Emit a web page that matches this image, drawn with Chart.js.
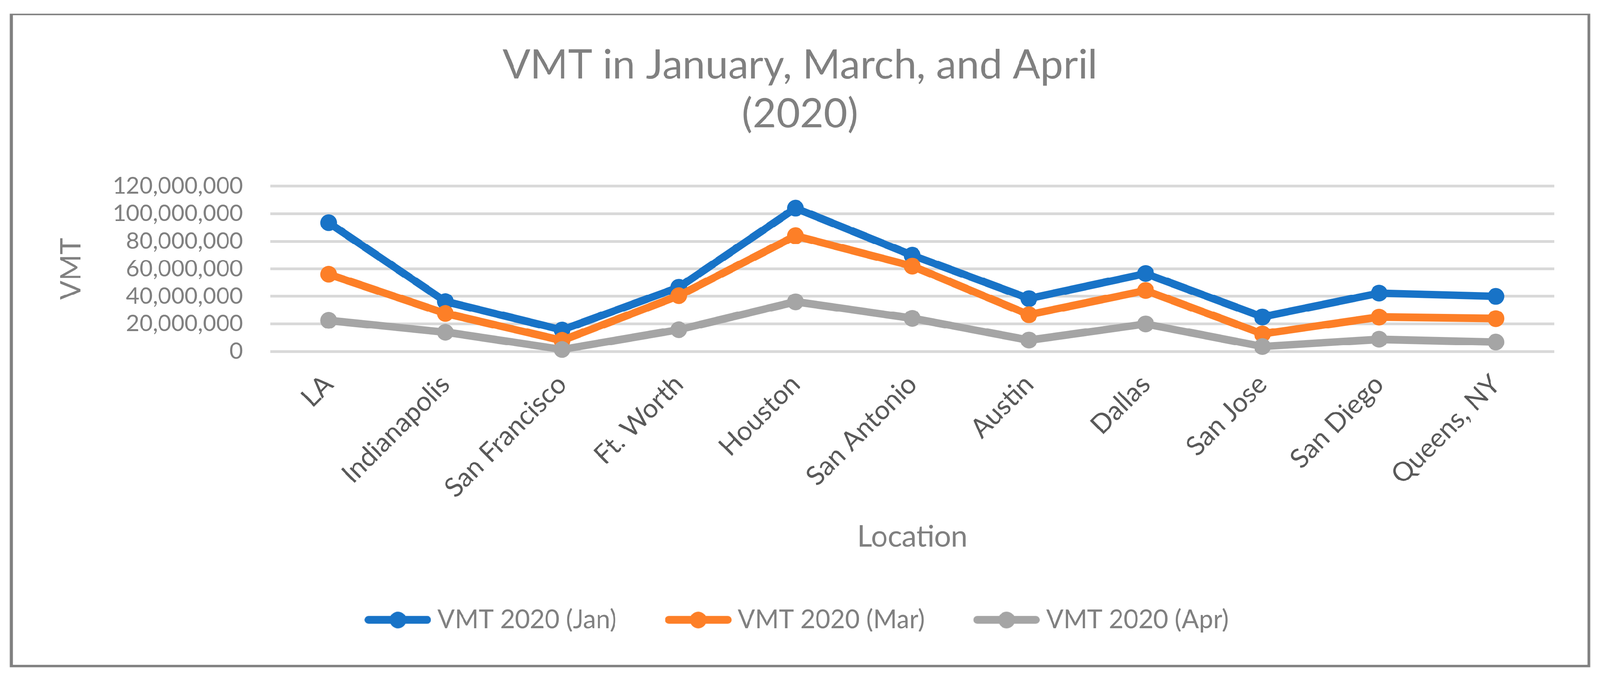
<!DOCTYPE html>
<html>
  <head>
    <script src="https://cdn.jsdelivr.net/npm/chart.js@4.4.0/dist/chart.umd.min.js"></script>
    <style>
      html, body { margin: 0; padding: 0; background: #fff; overflow: hidden; }
      #wrap { position: absolute; left: 0; top: 0; width: 4191px; height: 1780px; transform-origin: 0 0; }
      #frame {
        position: absolute; left: 26px; top: 36px; width: 4139px; height: 1713px;
        border-style: solid; border-color: #808080; border-width: 4px 7px 7px 8px;
        box-sizing: border-box;
      }
      #chart { position: absolute; left: 0; top: 0; }
    </style>
  </head>
  <body>
    <div id="wrap">
      <div id="frame"></div>
      <canvas id="chart" width="4191" height="1780"></canvas>
    </div>
    <script>
      // INPUT DATA

      const locations = [
        "LA", "Indianapolis", "San Francisco", "Ft. Worth", "Houston", "San Antonio",
        "Austin", "Dallas", "San Jose", "San Diego", "Queens, NY",
      ];
      const vmtJan = [
        93400000, 36300000, 15600000, 46500000, 104000000, 69800000,
        38400000, 56500000, 25100000, 42300000, 40000000,
      ];
      const vmtMar = [
        56000000, 27600000, 8000000, 40500000, 83900000, 62000000,
        26700000, 44200000, 12800000, 25000000, 23900000,
      ];
      const vmtApr = [
        22500000, 14000000, 1500000, 15800000, 36100000, 24100000,
        8200000, 19900000, 3600000, 8800000, 6800000,
      ];
      const seriesNames = ["VMT 2020 (Jan)", "VMT 2020 (Mar)", "VMT 2020 (Apr)"];
      const yTickValues = [0, 20000000, 40000000, 60000000, 80000000, 100000000, 120000000];

      const seriesValues = [vmtJan, vmtMar, vmtApr];
      const seriesColors = ["#1873C7", "#FD7F27", "#A5A5A5"];

      // the drawing is laid out for a 4191 px wide page, fit it to the viewport
      const fit = Math.min(window.innerWidth / 4191, window.innerHeight / 1780);
      document.getElementById("wrap").style.transform = "scale(" + fit + ")";

      // legend symbol: line with a dot, like the excel one
      function legendIcon(color) {
        const c = document.createElement("canvas");
        c.width = 174;
        c.height = 48;
        const g = c.getContext("2d");
        g.strokeStyle = color;
        g.lineWidth = 20;
        g.lineCap = "round";
        g.beginPath();
        g.moveTo(10, 24);
        g.lineTo(164, 24);
        g.stroke();
        g.fillStyle = color;
        g.beginPath();
        g.arc(87, 24, 22, 0, Math.PI * 2);
        g.fill();
        return c;
      }
      const icons = seriesColors.map(legendIcon);

      // PLOTTING DATA

      const plotData = {
        labels: locations,
        datasets: seriesNames.map(function (name, i) {
          return {
            label: name,
            data: seriesValues[i],
            borderColor: seriesColors[i],
            backgroundColor: seriesColors[i],
            pointBackgroundColor: seriesColors[i],
            borderWidth: 20,
            pointRadius: 22,
            pointHoverRadius: 22,
            pointBorderWidth: 0,
            fill: false,
            tension: 0,
            clip: false,
            order: seriesNames.length - i,
          };
        }),
      };

      const ctx = document.getElementById("chart").getContext("2d");
      const chart = new Chart(ctx, {
        type: "line",
        data: plotData,
        options: {
          responsive: false,
          animation: false,
          devicePixelRatio: Math.max(1, (window.devicePixelRatio || 1) * fit),
          layout: { padding: { top: 40, left: 75, right: 75, bottom: 112 } },
          plugins: {
            title: {
              display: true,
              text: ["VMT in January, March, and April", "(2020)"],
              color: "#808080",
              font: { family: "Lato", size: 107, weight: "normal", lineHeight: 1.2 },
              padding: { top: 67, bottom: 124 },
            },
            legend: {
              position: "bottom",
              labels: {
                usePointStyle: true,
                pointStyleWidth: 140,
                padding: 144,
                color: "#808080",
                font: { family: "Lato", size: 67 },
                sort: function (a, b) { return a.datasetIndex - b.datasetIndex; },
                generateLabels: function (c) {
                  const items = Chart.defaults.plugins.legend.labels.generateLabels(c);
                  items.forEach(function (it) { it.pointStyle = icons[it.datasetIndex]; });
                  return items;
                },
              },
            },
            tooltip: { enabled: false },
          },
          scales: {
            x: {
              offset: true,
              grid: { display: false, drawTicks: false },
              border: { display: false },
              ticks: {
                color: "#595959",
                font: { family: "Lato", size: 70 },
                minRotation: 45,
                maxRotation: 45,
                autoSkip: false,
                padding: 45,
              },
              title: {
                display: true,
                text: "Location",
                color: "#808080",
                font: { family: "Lato", size: 77, lineHeight: 0.9 },
                padding: { top: 0, bottom: 5 },
              },
              afterFit: function (s) { s.height = 526; },
            },
            y: {
              min: 0,
              max: 120000000,
              grid: { color: "#D9D9D9", lineWidth: 7, drawTicks: false },
              border: { display: false },
              ticks: {
                color: "#808080",
                font: { family: "Lato", size: 60 },
                padding: 72,
                autoSkip: false,
                callback: function (v) { return v.toLocaleString("en-US"); },
              },
              afterBuildTicks: function (s) {
                s.ticks = yTickValues.map(function (v) { return { value: v }; });
              },
              title: {
                display: true,
                text: "VMT",
                color: "#808080",
                font: { family: "Lato", size: 74 },
                padding: { top: 68, bottom: 0 },
              },
              afterFit: function (s) { s.width = 633; },
            },
            yPad: {
              position: "right",
              display: true,
              grid: { display: false, drawTicks: false },
              border: { display: false },
              ticks: { display: false },
              afterFit: function (s) { s.width = 45; },
            },
          },
        },
      });
    </script>
  </body>
</html>
